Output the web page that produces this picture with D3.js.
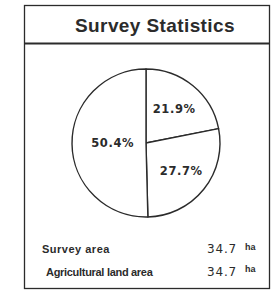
<!DOCTYPE html>
<html>
<head>
<meta charset="utf-8">
<script src="https://cdn.jsdelivr.net/npm/d3@7"></script>
<style>
    body { margin: 0; background: #fff; }
    svg { display: block; }
</style>
</head>
<body>
<div id="chart"></div>
<script>
const title = 'Survey Statistics';
const shares = [21.9, 27.7, 50.4];
const shareLabels = ['21.9%', '27.7%', '50.4%'];
const statNames = ['Survey area', 'Agricultural land area'];
const statValues = [34.7, 34.7];
const statUnit = 'ha';

const width = 275, height = 295;
const ink = '#2b2b2b';

const svg = d3.select('#chart')
    .append('svg')
    .attr('width', width)
    .attr('height', height)
    .style('background-color', '#fff');

// outer frame + title band
svg.append('rect')
    .attr('x', 24.5).attr('y', 5.5)
    .attr('width', 245).attr('height', 283)
    .attr('fill', 'none')
    .attr('stroke', ink)
    .attr('stroke-width', 1.3);
svg.append('line')
    .attr('x1', 24.5).attr('x2', 269.5)
    .attr('y1', 43.5).attr('y2', 43.5)
    .attr('stroke', ink)
    .attr('stroke-width', 1.8);
svg.append('text')
    .attr('x', 155).attr('y', 31.5)
    .attr('text-anchor', 'middle')
    .attr('font-family', 'Liberation Sans, Arial, sans-serif')
    .attr('font-weight', 'bold')
    .attr('font-size', 19)
    .attr('letter-spacing', 0.4)
    .attr('fill', ink)
    .text(title);

// pie
const cx = 146, cy = 143, r = 74;
const pie = d3.pie().sort(null)(shares);
const arc = d3.arc().innerRadius(0).outerRadius(r);
const g = svg.append('g').attr('transform', `translate(${cx},${cy})`);

g.selectAll('path.slice')
    .data(pie)
    .join('path')
    .attr('class', 'slice')
    .attr('d', arc)
    .attr('fill', '#fff')
    .attr('stroke', ink)
    .attr('stroke-width', 1.4)
    .attr('stroke-linejoin', 'round');

// label distance from centre, as share of radius
const labelRadius = [0.6, 0.61, 0.45];
g.selectAll('text.pct')
    .data(pie)
    .join('text')
    .attr('class', 'pct')
    .attr('transform', (d, i) => {
        const c = d3.arc().innerRadius(0).outerRadius(r * labelRadius[i] * 2).centroid(d);
        return `translate(${c[0]},${c[1]})`;
    })
    .attr('text-anchor', 'middle')
    .attr('dy', '0.35em')
    .attr('font-family', 'DejaVu Sans, sans-serif')
    .attr('font-weight', 'bold')
    .attr('font-size', 11.5)
    .attr('letter-spacing', 0.6)
    .attr('fill', ink)
    .text((d, i) => shareLabels[i]);

// stats rows
const rowY = d3.scaleBand().domain(statNames).range([238, 283]);
const rows = svg.selectAll('g.row')
    .data(statNames)
    .join('g')
    .attr('class', 'row')
    .attr('transform', d => `translate(0,${rowY(d) + rowY.bandwidth() / 2})`);

rows.append('text')
    .attr('x', (d, i) => i === 0 ? 42 : 46)
    .attr('dy', '0.35em')
    .attr('font-family', 'Liberation Sans, Arial, sans-serif')
    .attr('font-weight', 'bold')
    .attr('font-size', 11)
    .attr('letter-spacing', (d, i) => i === 0 ? 0.5 : -0.3)
    .attr('fill', ink)
    .text(d => d);

rows.append('text')
    .attr('x', 237)
    .attr('text-anchor', 'end')
    .attr('dy', '0.35em')
    .attr('font-family', 'DejaVu Sans, sans-serif')
    .attr('font-size', 12)
    .attr('letter-spacing', 0.8)
    .attr('fill', ink)
    .text((d, i) => statValues[i].toFixed(1));

rows.append('text')
    .attr('x', 245)
    .attr('dy', '0.05em')
    .attr('font-family', 'Liberation Sans, Arial, sans-serif')
    .attr('font-weight', 'bold')
    .attr('font-size', 9)
    .attr('fill', ink)
    .text(statUnit);
</script>
</body>
</html>
